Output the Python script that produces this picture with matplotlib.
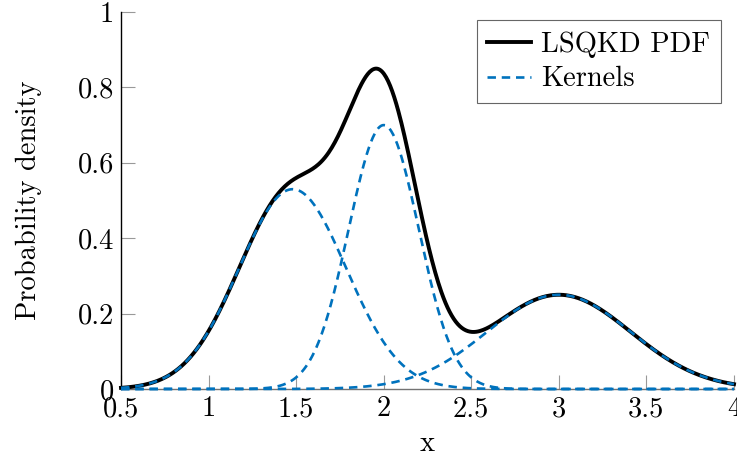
import numpy as np
import matplotlib
matplotlib.use("Agg")
import matplotlib.pyplot as plt

# Gaussian kernels: centre, peak height, width
centres = [1.48, 2.0, 3.0]
heights = [0.53, 0.70, 0.25]
widths = [0.305, 0.20, 0.41]

x_ticks = [0.5, 1, 1.5, 2, 2.5, 3, 3.5, 4]
x_tick_labels = ["0.5", "1", "1.5", "2", "2.5", "3", "3.5", "4"]
y_ticks = [0, 0.2, 0.4, 0.6, 0.8, 1]
y_tick_labels = ["0", "0.2", "0.4", "0.6", "0.8", "1"]

plt.rcParams["font.family"] = ["cmr10", "DejaVu Serif"]
plt.rcParams["axes.formatter.use_mathtext"] = True
plt.rcParams["font.size"] = 20.5

blue = "#0072BD"

x = np.linspace(0.5, 4, 600)
kernels = [h * np.exp(-(x - c) ** 2 / (2 * w ** 2))
           for c, h, w in zip(centres, heights, widths)]
total = np.sum(kernels, axis=0)

fig = plt.figure(figsize=(7.37, 4.62), dpi=100)
ax = fig.add_axes([121 / 737, 1 - 389 / 462, (734 - 121) / 737, (389 - 12) / 462])

ax.plot(x, total, color="black", lw=2.8, label="LSQKD PDF", clip_on=False, zorder=3)
for i, k in enumerate(kernels):
    ax.plot(x, k, color=blue, lw=1.9, ls=(0, (3.2, 2.2)),
            label="Kernels" if i == 0 else None, clip_on=False, zorder=4)

ax.set_xlim(0.5, 4)
ax.set_ylim(0, 1)
ax.set_xticks(x_ticks)
ax.set_xticklabels(x_tick_labels)
ax.set_yticks(y_ticks)
ax.set_yticklabels(y_tick_labels)
ax.tick_params(direction="in", length=10, width=0.8, color="0.6", pad=5)
ax.set_xlabel("x", labelpad=6)
ax.set_ylabel("Probability density", labelpad=26)

for side in ("top", "right"):
    ax.spines[side].set_visible(False)
ax.spines["left"].set_linewidth(1.0)
ax.spines["bottom"].set_linewidth(1.0)
ax.spines["bottom"].set_color("0.45")

leg = ax.legend(loc="upper right", bbox_to_anchor=(0.979, 0.978), borderaxespad=0,
                fancybox=False, framealpha=1, edgecolor="0.4", handlelength=1.55,
                handletextpad=0.35, borderpad=0.38, labelspacing=0.3)
leg.get_frame().set_linewidth(0.8)

fig.savefig("out.png", dpi=100)
